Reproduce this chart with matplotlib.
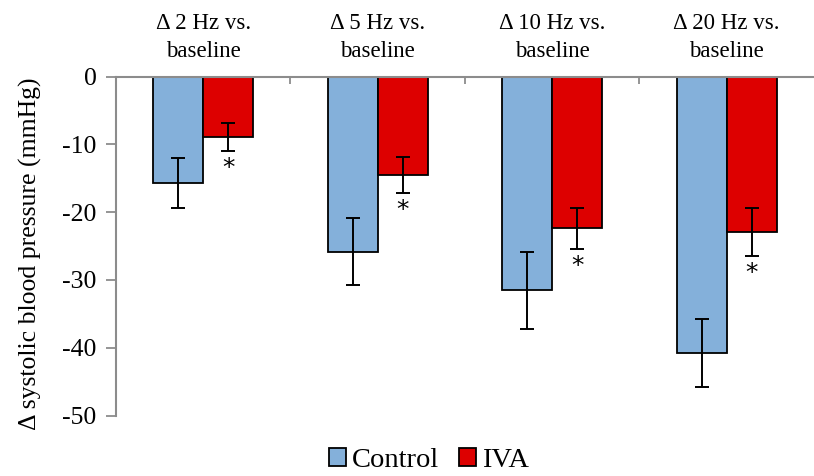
import numpy as np
import matplotlib
matplotlib.use("Agg")
import matplotlib.pyplot as plt
from matplotlib.patches import Patch
from matplotlib.transforms import blended_transform_factory

plt.rcParams["font.family"] = ["Liberation Serif", "DejaVu Serif"]
plt.rcParams["axes.unicode_minus"] = False

# Data
categories = ["\u0394 2 Hz vs.\nbaseline", "\u0394 5 Hz vs.\nbaseline",
              "\u0394 10 Hz vs.\nbaseline", "\u0394 20 Hz vs.\nbaseline"]
control_mean = [-15.7, -25.8, -31.5, -40.8]
control_err = [3.65, 4.9, 5.7, 5.0]
iva_mean = [-8.9, -14.5, -22.4, -22.9]
iva_err = [2.05, 2.7, 3.05, 3.55]
significant = [True, True, True, True]

control_color = "#84B0DA"
iva_color = "#DD0000"
axis_gray = "#8C8C8C"

fig = plt.figure(figsize=(8.14, 4.76), dpi=100)
ax = fig.add_axes([0.1425, 0.127, 0.8575, 0.712])

x = np.arange(len(categories))
width = 0.287

ax.bar(x - width / 2, control_mean, width, color=control_color,
       edgecolor="black", linewidth=1.3, label="Control", zorder=2)
ax.bar(x + width / 2, iva_mean, width, color=iva_color,
       edgecolor="black", linewidth=1.3, label="IVA", zorder=2)
ax.errorbar(x - width / 2, control_mean, yerr=control_err, fmt="none",
            ecolor="black", elinewidth=1.4, capsize=5, capthick=1.4, zorder=3)
ax.errorbar(x + width / 2, iva_mean, yerr=iva_err, fmt="none",
            ecolor="black", elinewidth=1.4, capsize=5, capthick=1.4, zorder=3)

# significance asterisks below the IVA error bars
for xi, m, e, sig in zip(x, iva_mean, iva_err, significant):
    if sig:
        ax.text(xi + width / 2, m - e - 2.5, "*", ha="center", va="center",
                fontsize=18, fontfamily="DejaVu Sans")

ax.set_xlim(-0.5, len(categories) - 0.5)
ax.set_ylim(-50, 0)
ax.set_yticks(np.arange(-50, 1, 10))
ax.tick_params(axis="y", direction="out", length=7, width=1.3,
               color=axis_gray, labelsize=18.5, pad=7)

# category axis sits at y=0 (top)
ax.xaxis.tick_top()
ax.set_xticks(np.arange(0.5, len(categories) - 0.5, 1))
ax.set_xticklabels([])
ax.tick_params(axis="x", direction="in", length=5, width=1.3,
               color=axis_gray)

for side in ["bottom", "right"]:
    ax.spines[side].set_visible(False)
for side in ["left", "top"]:
    ax.spines[side].set_color(axis_gray)
    ax.spines[side].set_linewidth(1.5)

trans = blended_transform_factory(ax.transData, ax.transAxes)
for xi, label in zip(x, categories):
    ax.text(xi, 1.042, label, transform=trans, ha="center", va="bottom",
            fontsize=16.5, linespacing=1.45)

ax.set_ylabel("\u0394 systolic blood pressure (mmHg)", fontsize=18.5)
ax.yaxis.set_label_coords(-0.106, 0.478)

handles = [Patch(facecolor=control_color, edgecolor="black", linewidth=1.3),
           Patch(facecolor=iva_color, edgecolor="black", linewidth=1.3)]
fig.legend(handles, ["Control", "IVA"], loc="lower center",
           bbox_to_anchor=(0.527, -0.048), ncol=2, frameon=False,
           fontsize=20.5, handlelength=0.6, handleheight=0.6,
           handletextpad=0.2, columnspacing=0.7)

fig.savefig("out.png", dpi=100)
